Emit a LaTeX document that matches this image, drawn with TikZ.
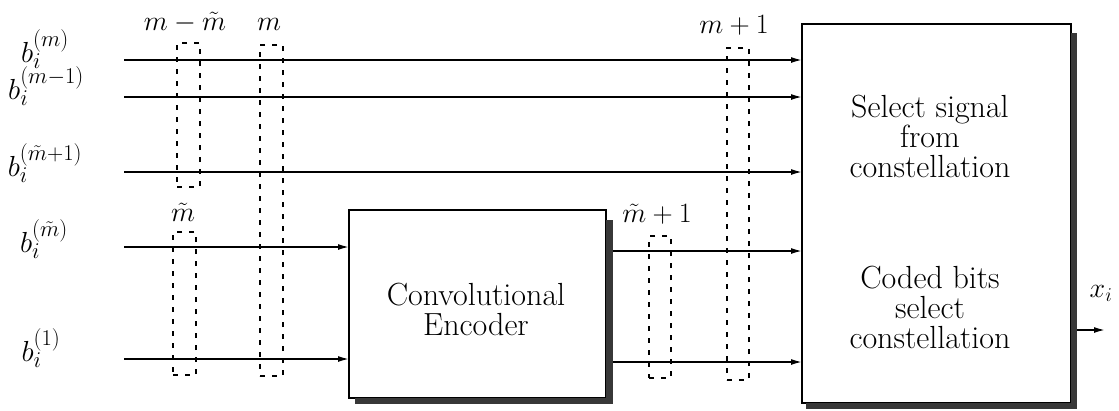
\RequirePackage{fix-cm}
\documentclass[tikz,border=0pt]{standalone}
\usetikzlibrary{arrows.meta,calc}
\DeclareMathSizes{29}{29}{22.5}{17}
\begin{document}
\begin{tikzpicture}[x=1pt,y=-1pt,
  every node/.style={font=\fontsize{28}{33}\selectfont},
  sig/.style={line width=1.6pt,-{Latex[length=11pt,width=6pt]}},
  block/.style={draw,line width=1.6pt,fill=white,inner sep=0pt,outer sep=0pt,align=center},
  txt/.style={align=center,inner sep=0pt,font=\fontsize{32}{30}\selectfont},
  blab/.style={anchor=base,inner sep=0pt,font=\fontsize{29}{33}\selectfont},
  shadowfill/.style={fill=black!78},
  dashbox/.style={draw,dash pattern=on 5pt off 7pt,line width=1.3pt,inner sep=0pt,outer sep=0pt},
  lab/.style={anchor=base,inner sep=0pt}]
\useasboundingbox (0,0) rectangle (1119,410);
% blocks
\node[block, minimum width=257pt, minimum height=188pt] (conv) at (477.5,304) {};
\node[txt] (convtxt) at (476,309) {Convolutional\\Encoder};
\node[block, minimum width=269pt, minimum height=379pt] (sel) at (936.5,213.5) {};
\node[txt] (seltxt) at (930,136) {Select signal\\from\\constellation};
\node[txt] (codtxt) at (930,307) {Coded bits\\select\\constellation};
% input labels
\node[blab] (lb1) at (45,62) {$b_i^{(m)}$};
\node[blab] (lb2) at (46,99) {$b_i^{(m-1)}$};
\node[blab] (lb3) at (45,176) {$b_i^{(\tilde m+1)}$};
\node[blab] (lb4) at (44,252) {$b_i^{(\tilde m)}$};
\node[blab] (lb5) at (41,361) {$b_i^{(1)}$};
% input free ends
\coordinate (i1) at (124,60);
\coordinate (i2) at (124,97);
\coordinate (i3) at (124,172);
\coordinate (i4) at (124,247);
\coordinate (i5) at (124,359);
\coordinate (c1) at (700,251);
\coordinate (c2) at (700,362);
\coordinate (xo) at (1105,330);
% connectors
\draw[sig] (i1) -- (i1 -| sel.west);
\draw[sig] (i2) -- (i2 -| sel.west);
\draw[sig] (i3) -- (i3 -| sel.west);
\draw[sig] (i4) -- (i4 -| conv.west);
\draw[sig] (i5) -- (i5 -| conv.west);
\draw[sig] (conv.east |- c1) -- (sel.west |- c1);
\draw[sig] (conv.east |- c2) -- (sel.west |- c2);
\draw[sig] (sel.east |- xo) -- (xo);
\node[lab] (xl) at (1101,297) {$x_i$};
% shadows
\fill[shadowfill] ($(conv.north east)+(0,10)$) rectangle ($(conv.south east)+(7,6)$);
\fill[shadowfill] ($(conv.south west)+(6,0)$) rectangle ($(conv.south east)+(7,6)$);
\fill[shadowfill] ($(sel.north east)+(0,9)$) rectangle ($(sel.south east)+(6,6)$);
\fill[shadowfill] ($(sel.south west)+(4,0)$) rectangle ($(sel.south east)+(6,6)$);
% dashed groups
\node[dashbox, minimum width=23pt, minimum height=144pt] (d1) at (188.5,115) {};
\node[dashbox, minimum width=23pt, minimum height=331pt] (d2) at (271.5,210.5) {};
\node[dashbox, minimum width=23pt, minimum height=143pt] (d3) at (184.5,303.5) {};
\node[dashbox, minimum width=22pt, minimum height=142pt] (d4) at (660,307) {};
\node[dashbox, minimum width=22pt, minimum height=332pt] (d5) at (738,214) {};
\node[lab] (l1) at (185,30) {$m-\tilde m$};
\node[lab] (l2) at (269,30) {$m$};
\node[lab] (l3) at (183,221) {$\tilde m$};
\node[lab] (l4) at (657,222) {$\tilde m+1$};
\node[lab] (l5) at (734,33) {$m+1$};
\end{tikzpicture}
\end{document}
